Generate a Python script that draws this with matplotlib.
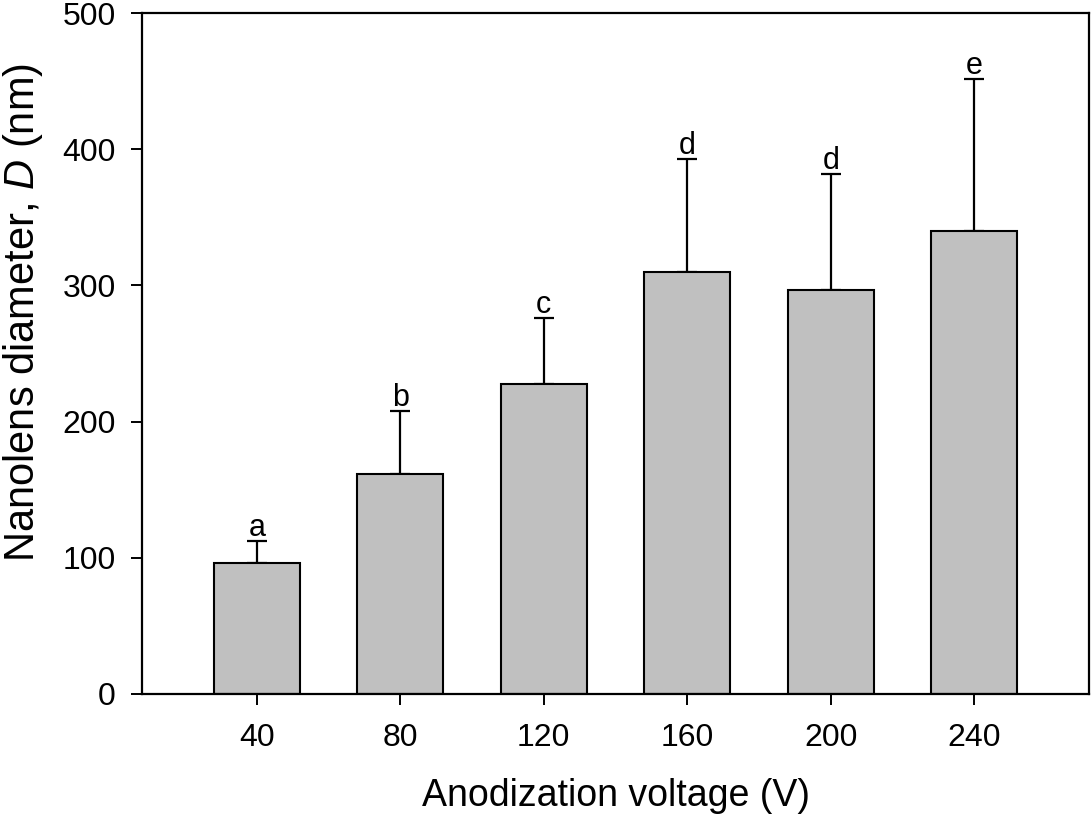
import numpy as np
import matplotlib
matplotlib.use("Agg")
import matplotlib.pyplot as plt

# data
voltages = ["40", "80", "120", "160", "200", "240"]
diameter = [96, 161.5, 227.5, 310, 296.5, 340]
upper_err = [16, 46, 48.5, 82.5, 85, 111.5]
letters = ["a", "b", "c", "d", "d", "e"]

plt.rcParams.update({
    'font.family': ['Liberation Sans', 'DejaVu Sans'],
    'mathtext.fontset': 'custom',
    'mathtext.it': 'Liberation Sans:italic',
    'mathtext.rm': 'Liberation Sans',
})

fig = plt.figure(figsize=(10.91, 8.24), dpi=100)
ax = fig.add_axes([0.1302, 0.1578, 0.868, 0.8264])

x = np.arange(len(voltages))
ax.bar(x, diameter, width=0.6, color='#c0c0c0', edgecolor='black',
       linewidth=1.5, zorder=2)
ax.errorbar(x, diameter, yerr=[np.zeros(len(x)), upper_err], fmt='none',
            ecolor='black', elinewidth=1.6, capsize=7.5, capthick=1.6, zorder=1)

# significance letters above the error bars
for xi, d, e, s in zip(x, diameter, upper_err, letters):
    ax.text(xi, d + e + 4, s, ha='center', va='baseline', fontsize=22)

ax.set_xlim(-0.8, 5.8)
ax.set_ylim(0, 500)
ax.set_xticks(x)
ax.set_xticklabels(voltages)
ax.set_yticks(np.arange(0, 501, 100))

for sp in ax.spines.values():
    sp.set_linewidth(1.6)

ax.tick_params(axis='both', direction='out', length=8, width=1.4,
               labelsize=23)
ax.tick_params(axis='x', pad=13)
ax.tick_params(axis='y', pad=11)

ax.set_xlabel("Anodization voltage (V)", fontsize=27, labelpad=18)
ax.set_ylabel("Nanolens diameter, $\\mathit{D}$ (nm)", fontsize=30)
# label sits a bit above the axis centre in the reference
ax.yaxis.set_label_coords(-0.102, 0.56)

fig.savefig("out.png", dpi=100)
